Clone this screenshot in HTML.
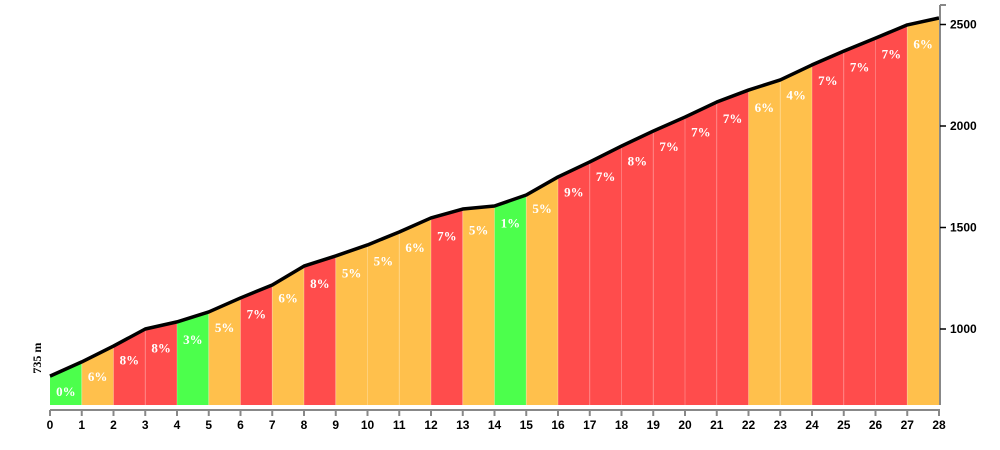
<!DOCTYPE html>
<html><head><meta charset="utf-8"><style>
body{margin:0;background:#fff;}
svg{display:block;font-family:"Liberation Sans",sans-serif;}
</style></head><body>
<svg id="c" width="1000" height="450"></svg>
<script>
const kms=[0,1,2,3,4,5,6,7,8,9,10,11,12,13,14,15,16,17,18,19,20,21,22,23,24,25,26,27,28];
const elevations=[768,838,916,1000,1035,1084,1153,1217,1310,1360,1414,1478,1547,1591,1606,1660,1749,1823,1901,1975,2044,2118,2177,2227,2301,2369,2433,2498,2532];
const grades=[0,6,8,8,3,5,7,6,8,5,5,6,7,5,1,5,9,7,8,7,7,7,6,4,7,7,7,6];
const yTicks=[1000,1500,2000,2500];
const xTicks=[0,1,2,3,4,5,6,7,8,9,10,11,12,13,14,15,16,17,18,19,20,21,22,23,24,25,26,27,28];
const NS="http://www.w3.org/2000/svg";
const svg=document.getElementById('c');
const X=k=>50+k*(889/28);
const Y=e=>24.5+(2500-e)*0.203;
const base=405;
function el(t,a,p){const e=document.createElementNS(NS,t);for(const k in a)e.setAttribute(k,a[k]);(p||svg).appendChild(e);return e;}
function col(g){return g<=3?'#4cff4c':(g<=6?'#ffc04c':'#ff4c4c');}
for(let i=0;i<grades.length;i++){
  const x0=X(kms[i]),x1=X(kms[i+1]);
  const p=el('polygon',{points:`${x0},${base} ${x0},${Y(elevations[i])} ${x1},${Y(elevations[i+1])} ${x1},${base}`,fill:col(grades[i])});
  
  
  if(i>0){el('line',{x1:x0,x2:x0,y1:base,y2:Y(elevations[i]),stroke:'rgba(255,255,255,0.25)','stroke-width':1});}
  const t=el('text',{x:(x0+x1)/2,y:(Y(elevations[i])+Y(elevations[i+1]))/2+27,'text-anchor':'middle',fill:'#fff','font-size':13,'font-weight':'bold','font-family':'"Liberation Serif",serif'});
  t.textContent=grades[i]+'%';
  
  
}
const line=el('polyline',{points:kms.map((k,i)=>X(k)+','+Y(elevations[i])).join(' '),fill:'none',stroke:'#000','stroke-width':3.5,'stroke-linejoin':'round'});


const xa=el('line',{x1:50,x2:940,y1:410,y2:410,stroke:'#888','stroke-width':2});


xTicks.forEach(k=>{
  el('line',{x1:X(k),x2:X(k),y1:410,y2:416,stroke:'#888','stroke-width':2});
  const t=el('text',{x:X(k),y:429,'text-anchor':'middle','font-size':12,'font-weight':'bold',fill:'#000'});
  t.textContent=k;
  
  
});
const ya=el('line',{x1:940,x2:940,y1:5,y2:405,stroke:'#888','stroke-width':2});


el('line',{x1:940,x2:946,y1:5,y2:5,stroke:'#888','stroke-width':2});
yTicks.forEach(v=>{
  el('line',{x1:940,x2:946,y1:Y(v),y2:Y(v),stroke:'#000','stroke-width':1.5});
  const t=el('text',{x:950,y:Y(v)+4,'font-size':12,'font-weight':'bold',fill:'#000'});
  t.textContent=v;
  
  
});
const st=el('text',{x:0,y:0,transform:`translate(41,${Y(elevations[0])-18}) rotate(-90)`,'text-anchor':'middle','font-size':12,'font-weight':'bold','font-family':'"Liberation Serif",serif',fill:'#000'});
st.textContent='735 m';


</script>
</body></html>
